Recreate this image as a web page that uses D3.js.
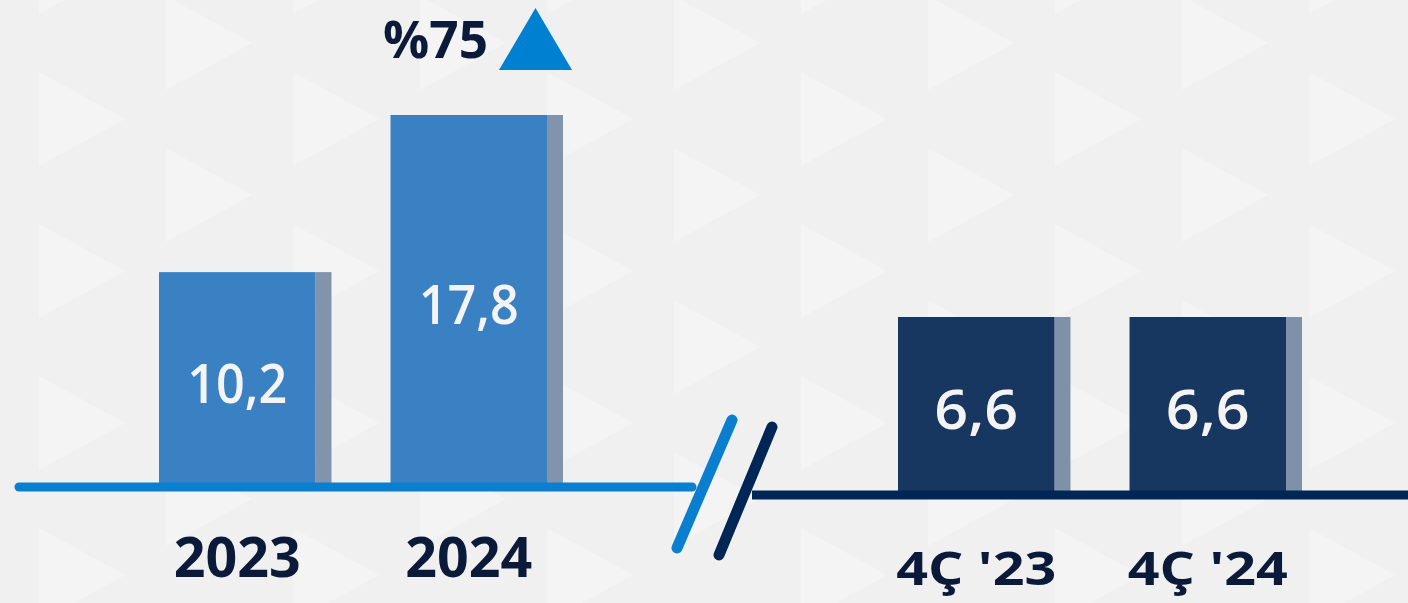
<!DOCTYPE html>
<html><head><meta charset="utf-8">
<script src="https://cdn.jsdelivr.net/npm/d3@7"></script>
<style>html,body{margin:0;padding:0;background:#f1f1f1;overflow:hidden}svg{display:block}</style>
</head><body>
<svg id="c" width="1408" height="603"></svg>
<script>
const yearCats = ["2023", "2024"];
const yearValues = [10.2, 17.8];
const yearLabels = ["10,2", "17,8"];
const quarterCats = ["4Ç '23", "4Ç '24"];
const quarterValues = [6.6, 6.6];
const quarterLabels = ["6,6", "6,6"];
const growthLabel = "%75";

const svg = d3.select("#c");
const W = 1408, H = 603;

// background pattern
const bg = svg.append("g");
bg.append("rect").attr("width", W).attr("height", H).attr("fill", "#f0f0f0");
const colW = 127, period = 152;
for (let ci = 0; ci < 12; ci++) {
  const x0 = 39 + (ci - 1) * colW;
  const off = (ci % 2 === 0) ? 0 : -period / 2;
  for (let k = -1; k < 6; k++) {
    const yTop = off + k * period - 4;
    bg.append("path")
      .attr("d", `M${x0},${yTop} L${x0 + 86},${yTop + 47} L${x0},${yTop + 94} Z`)
      .attr("fill", "#f4f4f4");
  }
}

const fontCat = "'Open Sans', 'Noto Sans', sans-serif";

function panel(cats, vals, labels, range, base, topVal, topY, col, shadowCol) {
  const x = d3.scaleBand().domain(cats).range(range).paddingInner(0.255).paddingOuter(0);
  const y = d3.scaleLinear().domain([0, topVal]).range([base, topY]);
  const sw = 16;
  const bw = x.bandwidth() - sw;
  const g = svg.append("g");
  cats.forEach((c, i) => {
    g.append("rect").attr("x", x(c) + bw).attr("y", y(vals[i]) ).attr("width", sw)
      .attr("height", base - y(vals[i])).attr("fill", shadowCol);
    g.append("rect").attr("x", x(c)).attr("y", y(vals[i])).attr("width", bw)
      .attr("height", base - y(vals[i])).attr("fill", col);
    const t = g.append("text").attr("x", x(c) + bw / 2).attr("y", (y(vals[i]) + base) / 2 + 25)
      .attr("text-anchor", "middle").attr("fill", "#f4f4f4")
      .attr("font-family", fontCat).attr("font-weight", 600).attr("font-size", 54)
      .text(labels[i]);
    t.attr("textLength", labels[i].length === 4 ? 100 : 84).attr("lengthAdjust", "spacingAndGlyphs");
  });
  return {x, y, bw};
}

const L = panel(yearCats, yearValues, yearLabels, [159, 563], 483, 17.8, 115, "#3a81c3", "#8194ac");
const R = panel(quarterCats, quarterValues, quarterLabels, [898, 1302], 491, 6.6, 317, "#173660", "#7f91a8");

// baselines
svg.append("line").attr("x1", 19).attr("x2", 692).attr("y1", 487).attr("y2", 487)
  .attr("stroke", "#0a7fd0").attr("stroke-width", 9).attr("stroke-linecap", "round");
svg.append("line").attr("x1", 752).attr("x2", 1420).attr("y1", 495).attr("y2", 495)
  .attr("stroke", "#002655").attr("stroke-width", 9);

// break marks
svg.append("line").attr("x1", 732).attr("y1", 420).attr("x2", 677).attr("y2", 548)
  .attr("stroke", "#0a7fd0").attr("stroke-width", 11).attr("stroke-linecap", "round");
svg.append("line").attr("x1", 772).attr("y1", 427).attr("x2", 719).attr("y2", 555)
  .attr("stroke", "#002655").attr("stroke-width", 11).attr("stroke-linecap", "round");

// category labels
yearCats.forEach(c => {
  svg.append("text").attr("x", L.x(c) + L.bw / 2).attr("y", 577).attr("text-anchor", "middle")
    .attr("fill", "#0c1a3a").attr("font-family", fontCat).attr("font-weight", 700).attr("font-size", 56)
    .attr("textLength", 127).attr("lengthAdjust", "spacingAndGlyphs").text(c);
});
quarterCats.forEach(c => {
  svg.append("text").attr("x", R.x(c) + R.bw / 2).attr("y", 585).attr("text-anchor", "middle")
    .attr("fill", "#0c1a3a").attr("font-family", fontCat).attr("font-weight", 700).attr("font-size", 46)
    .attr("textLength", 160).attr("lengthAdjust", "spacingAndGlyphs").text(c);
});

// growth label
svg.append("text").attr("x", 383).attr("y", 58).attr("fill", "#0c1a3a")
  .attr("font-family", fontCat).attr("font-weight", 700).attr("font-size", 52)
  .attr("textLength", 105).attr("lengthAdjust", "spacingAndGlyphs").text(growthLabel);
svg.append("path").attr("d", "M499,70 L572,70 L535.5,8 Z").attr("fill", "#0080d0");
</script>
</body></html>
